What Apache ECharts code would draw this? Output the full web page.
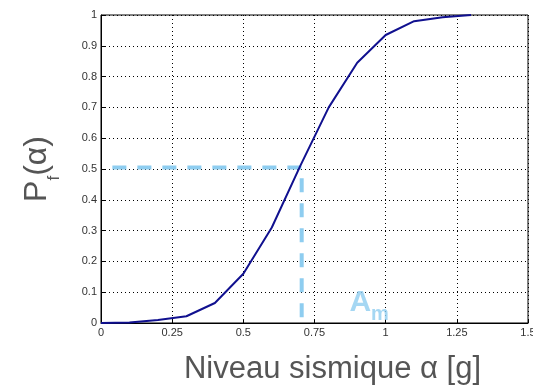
<!DOCTYPE html>
<html>
<head>
<meta charset="utf-8">
<script src="https://cdn.jsdelivr.net/npm/echarts@6/dist/echarts.min.js"></script>
<style>
  html, body { margin: 0; padding: 0; background: #fff; }
  #chart { width: 533px; height: 386px; }
</style>
</head>
<body>
<div id="chart"></div>
<script>
// fragility curve P_f(alpha)
const alphaValues = [0, 0.1, 0.2, 0.3, 0.4, 0.5, 0.6, 0.7, 0.8, 0.9, 1.0, 1.1, 1.2, 1.3];
const pfValues = [0, 0.002, 0.01, 0.022, 0.065, 0.16, 0.31, 0.51, 0.70, 0.845, 0.935, 0.98, 0.993, 1.0];
// median A_m guide (dashed)
const medianGuideX = [0.04, 0.705, 0.705];
const medianGuideY = [0.505, 0.505, 0];
const amLabelPos = [0.855, 0.0];
const xTicks = ['0', '0.25', '0.5', '0.75', '1', '1.25', '1.5'];
const yTicks = ['0', '0.1', '0.2', '0.3', '0.4', '0.5', '0.6', '0.7', '0.8', '0.9', '1'];

const chart = echarts.init(document.getElementById('chart'));
const font = 'Liberation Sans, Arial, sans-serif';

const option = {
    animation: false,
    grid: {
        left: 101,
        right: 5,
        top: 15,
        bottom: 63,
        outerBoundsMode: 'none',
        containLabel: false,
        show: true,
        borderColor: '#000',
        borderWidth: 1
    },
    xAxis: {
        type: 'value',
        min: 0,
        max: 1.5,
        interval: 0.25,
        name: 'Niveau sismique \u03b1 [g]',
        nameLocation: 'middle',
        nameGap: 31,
        nameTextStyle: { fontFamily: font, fontSize: 31, color: '#555', padding: [0, 0, 0, 36] },
        axisLine: { lineStyle: { color: '#000' } },
        axisTick: { inside: true, length: 4, lineStyle: { color: '#000' } },
        axisLabel: {
            fontFamily: font, fontSize: 11, color: '#333', margin: 4,
            formatter: (v) => xTicks[Math.round(v / 0.25)]
        },
        splitLine: { show: true, lineStyle: { color: '#000', type: [1, 3], width: 1 } }
    },
    yAxis: {
        type: 'value',
        min: 0,
        max: 1,
        interval: 0.1,
        name: '{p|P}{s|f}{p|(\u03b1)}',
        nameLocation: 'middle',
        nameGap: 48,
        nameTextStyle: {
            padding: [0, 0, 0, 0],
            rich: {
                p: { fontFamily: font, fontSize: 32, color: '#555' },
                s: { fontFamily: font, fontSize: 17, color: '#555', verticalAlign: 'bottom', padding: [0, 0, -10, 0] }
            }
        },
        axisLine: { lineStyle: { color: '#000' } },
        axisTick: { inside: true, length: 4, lineStyle: { color: '#000' } },
        axisLabel: {
            fontFamily: font, fontSize: 11, color: '#333', margin: 4,
            formatter: (v) => yTicks[Math.round(v * 10)]
        },
        splitLine: { show: true, lineStyle: { color: '#000', type: [1, 3], width: 1 } }
    },
    series: [
        {
            type: 'line',
            data: medianGuideX.map((x, i) => [x, medianGuideY[i]]),
            symbol: 'none',
            lineStyle: { color: '#8ecdf0', width: 4, type: [14, 11] },
            z: 2
        },
        {
            type: 'line',
            data: alphaValues.map((x, i) => [x, pfValues[i]]),
            symbol: 'none',
            lineStyle: { color: '#10108f', width: 2 },
            z: 3
        },
        {
            type: 'scatter',
            data: [amLabelPos],
            symbolSize: 0,
            label: {
                show: true,
                position: 'insideBottomLeft',
                formatter: '{a|A}{m|m}',
                rich: {
                    a: { fontFamily: font, fontSize: 30, fontWeight: 'bold', color: '#8ecdf0' },
                    m: { fontFamily: font, fontSize: 20, fontWeight: 'bold', color: '#8ecdf0', verticalAlign: 'bottom', padding: [0, 0, -6, 0] }
                }
            },
            z: 4
        }
    ]
};

chart.setOption(option);
</script>
</body>
</html>
